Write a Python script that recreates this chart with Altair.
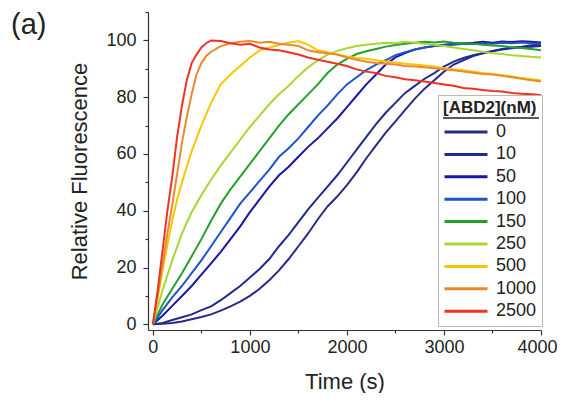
import altair as alt
import pandas as pd

# ---- data ----
concs = ["0", "10", "50", "100", "150", "250", "500", "1000", "2500"]
colors = ["#2b2a86", "#1f2c8e", "#1818a8", "#1e55c2", "#26a02a", "#a8d632", "#f7c600", "#ea8a2e", "#f03222"]

t_fast = [0, 50, 100, 150, 200, 250, 300, 350, 400, 450, 500, 550, 600,
          700, 800, 900, 1000, 1100, 1200, 1300, 1400, 1500, 1600, 1700, 1800, 1900, 2000,
          2100, 2200, 2300, 2400, 2500, 2600, 2700, 2800, 2900, 3000,
          3100, 3200, 3300, 3400, 3500, 3600, 3700, 3800, 3900, 4000]
t_slow = [0, 100, 200, 300, 400, 500, 600, 700, 800, 900, 1000,
          1100, 1200, 1300, 1400, 1500, 1600, 1700, 1800, 1900, 2000,
          2100, 2200, 2300, 2400, 2500, 2600, 2700, 2800, 2900, 3000,
          3100, 3200, 3300, 3400, 3500, 3600, 3700, 3800, 3900, 4000]

y_0 = [0, 0.2, 0.5, 1, 1.8, 2.6, 3.5, 4.8, 6.3, 8, 10,
       12.5, 15.5, 19, 23, 27.5, 32, 37, 41.5, 45, 49,
       53.5, 58.5, 63, 67.5, 71.5, 75.5, 79.5, 83, 86, 89,
       91.5, 93, 94.5, 95.5, 96.3, 97, 97.5, 97.8, 98.3, 98.5]
y_10 = [0, 0.5, 1.5, 2.5, 3.5, 5, 6.3, 8.5, 11, 13.5, 16.5,
        19.5, 23, 27.5, 31.5, 36, 40.5, 44.5, 48.5, 52.5, 57,
        61.5, 66, 70.5, 74.5, 78, 81.5, 84, 86.5, 88.5, 90.8,
        92.5, 93.8, 94.8, 95.5, 96.2, 96.8, 97.2, 97.6, 97.8, 98]
y_50 = [0, 3, 6.5, 10, 13.5, 17.5, 21.5, 25.5, 30, 34.5, 39.5,
        44, 48.5, 52.5, 55.5, 59, 62.5, 65.5, 69, 72.5, 76.5,
        80.5, 84.5, 88, 91.5, 94, 95.5, 96.8, 97.5, 98, 98.5,
        98.8, 99, 99.2, 99.5, 99.2, 99.6, 99.4, 99.7, 99.5, 99.3]
y_100 = [0, 5, 9.5, 13.5, 18, 22.5, 27.5, 32.5, 37.5, 42.5, 46.5,
         50.5, 54.5, 59, 62, 65.5, 69.5, 73.5, 77, 81, 84.5,
         87, 89.5, 91.5, 93, 94.8, 95.8, 96.8, 97.5, 98, 98.3,
         98.5, 98.8, 98.7, 99, 98.8, 99.2, 99, 99.3, 99, 98.8]
y_150 = [0, 7, 12.5, 18, 24, 30, 36.5, 42.5, 47.5, 52, 56.5,
         61, 65.5, 70, 74, 77.5, 81, 84.5, 88.5, 91.5, 93.5,
         95.2, 96.2, 97, 97.8, 98.4, 98.8, 99.2, 99.5, 99.3, 99.6,
         99.2, 99, 98.8, 98.5, 98.2, 98, 97.6, 97.3, 97, 96.5]
y_250 = [0, 12, 22.5, 32, 39.5, 45.5, 51, 56, 60.5, 65, 69.5,
         73.5, 77.5, 81, 84, 87.5, 90.5, 93, 95, 96.3, 97.2,
         98, 98.5, 98.8, 99.2, 99, 99.5, 99.2, 98.8, 98.5, 98,
         97.5, 97, 96.5, 96, 95.5, 95.2, 94.8, 94.5, 94.2, 94]
y_500 = [0, 9.5, 19, 28, 36.5, 44, 50, 55.5, 61, 65.5, 70, 74, 78,
         84.5, 88, 91, 94, 96.5, 97.5, 98.4, 99.2, 99.8, 98.5, 96.5, 95.8, 95, 94.3,
         93.8, 93.5, 93, 92.6, 92.2, 91.8, 91.5, 91.2, 90.8, 90.2,
         89.8, 89.5, 89, 88.5, 88.2, 87.8, 87.3, 86.8, 86.3, 86]
y_1000 = [0, 10, 21, 32, 42, 53, 64, 73, 81, 88, 92, 94.5, 96,
          98, 99, 99.5, 99.8, 99.2, 99.5, 98.8, 98.5, 98, 96.5, 95.8, 95.5, 95, 94,
          93.2, 92.5, 92, 91.8, 91.5, 91, 90.8, 90.5, 90.2, 89.8,
          89.5, 89, 88.6, 88.2, 88, 87.5, 87, 86.5, 86, 85.5]
y_2500 = [0, 12, 26, 40, 52, 66, 77, 86, 92, 95, 97.5, 99, 100,
          99.8, 99, 98.5, 98.8, 97.5, 96.8, 96.5, 95.8, 95, 94, 93.2, 92.5, 91.8, 91,
          89.8, 89, 88.5, 87.5, 87, 86.3, 86, 85.5, 85, 84.5,
          84, 83.2, 83, 82.5, 82.2, 82, 81.5, 81.2, 81, 80.8]

series = [
    ("0", t_slow, y_0), ("10", t_slow, y_10), ("50", t_slow, y_50),
    ("100", t_slow, y_100), ("150", t_slow, y_150), ("250", t_slow, y_250),
    ("500", t_fast, y_500), ("1000", t_fast, y_1000), ("2500", t_fast, y_2500),
]
rows = []
for i, (c, ts, ys) in enumerate(series):
    for t, v in zip(ts, ys):
        rows.append({"time": t, "value": v, "conc": c, "k": i})
df = pd.DataFrame(rows)

x_ticks = [0, 500, 1000, 1500, 2000, 2500, 3000, 3500, 4000]
y_ticks = [0, 10, 20, 30, 40, 50, 60, 70, 80, 90, 100, 110]
panel_label = ["(a)"]

FONT = "Liberation Sans"

lines = alt.Chart(df).mark_line(strokeWidth=2, clip=True).encode(
    x=alt.X("time:Q", title="Time (s)",
            scale=alt.Scale(domain=[-50, 4000], nice=False, zero=False),
            axis=alt.Axis(values=x_ticks, format="d",
                          labelExpr="datum.value % 1000 == 0 ? datum.label : ''",
                          tickSize={"condition": {"test": "datum.value % 1000 == 0", "value": 5}, "value": 3},
                          labelOffset={"condition": {"test": "datum.value == 4000", "value": -4}, "value": 0},
                          labelPadding=3, titlePadding=15, labelFlush=False, labelOverlap=False)),
    y=alt.Y("value:Q", title="Relative Fluorescence",
            scale=alt.Scale(domain=[-2, 110], nice=False, zero=False),
            axis=alt.Axis(values=y_ticks,
                          labelExpr="(datum.value % 20 == 0 && datum.value <= 100) ? datum.label : ''",
                          tickSize={"condition": {"test": "datum.value % 20 == 0", "value": 5}, "value": 3},
                          labelPadding=7, titlePadding=19, titleBaseline="alphabetic", labelOverlap=False)),
    color=alt.Color("conc:N", scale=alt.Scale(domain=concs, range=colors),
                    legend=alt.Legend(title="[ABD2](nM)", orient="none", legendX=290, legendY=83,
                                      symbolType="stroke", symbolSize=1849, symbolStrokeWidth=3,
                                      clipHeight=18, rowPadding=4.4, labelOffset=7,
                                      labelFontSize=18, labelFont=FONT, labelColor="#222",
                                      titleFontSize=17, titleFont=FONT, titleFontWeight="bold",
                                      titleColor="#222", titlePadding=6, padding=5,
                                      strokeColor="#b8b8b8")),
    order=alt.Order("k:Q"),
    detail="k:N",
)

# underline of the legend title
underline = alt.Chart(pd.DataFrame({"u": [0]})).mark_rule(color="#222", strokeWidth=1.3).encode(
    x=alt.value(295), x2=alt.value(391), y=alt.value(106)
)

label = alt.Chart(pd.DataFrame({"t": panel_label})).mark_text(
    align="left", baseline="alphabetic", fontSize=29, font=FONT, color="#222"
).encode(x=alt.value(-137), y=alt.value(22), text="t:N")

chart = alt.layer(lines, underline, label).properties(
    width=393, height=318,
    autosize=alt.AutoSizeParams(type="none"),
    padding={"left": 140, "top": 4, "right": 16, "bottom": 63},
).configure_view(stroke=None).configure_axis(
    grid=False, domainColor="#333", tickColor="#333", domainWidth=1.2, tickWidth=1.2,
    labelFont=FONT, labelFontSize=18, labelColor="#222",
    titleFont=FONT, titleFontSize=22, titleFontWeight="normal", titleColor="#222",
)

chart.save("out.html", embed_options={"renderer": "svg", "actions": False})
